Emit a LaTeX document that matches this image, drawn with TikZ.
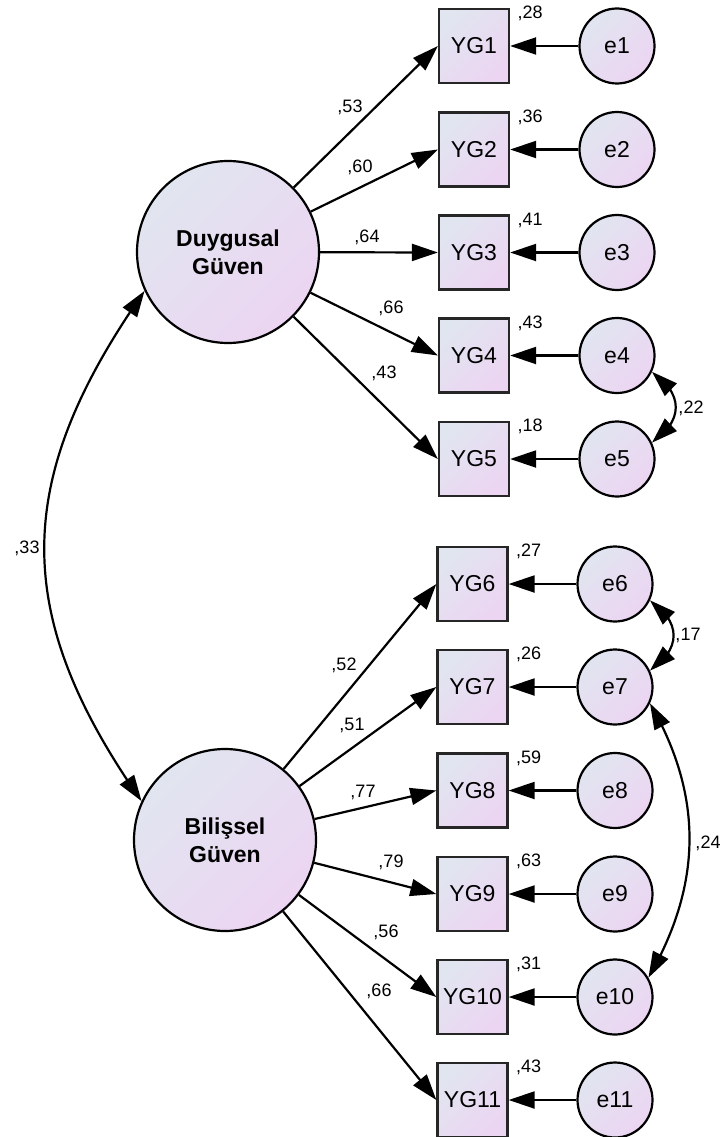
\documentclass[tikz,border=0pt]{standalone}
\usepackage{fontspec}
\setmainfont{Liberation Sans}
\usetikzlibrary{arrows.meta,bending,calc}
\definecolor{gradA}{RGB}{225,229,240}
\definecolor{gradB}{RGB}{236,213,242}
\begin{document}
\begin{tikzpicture}[x=1pt,y=1pt,
  grad/.style={top color=gradA,bottom color=gradB,shading angle=45},
  obs/.style={draw=black!85,line width=2.3pt,grad,minimum width=70pt,minimum height=74pt,
    inner sep=0pt,font=\fontsize{23}{26}\selectfont},
  err/.style={circle,draw=black,line width=2.2pt,grad,minimum size=75pt,inner sep=0pt,
    font=\fontsize{23}{26}\selectfont},
  lat/.style={circle,draw=black,line width=2.2pt,grad,minimum size=182pt,inner sep=0pt,
    align=center,font=\fontsize{23}{28}\selectfont\bfseries},
  tip/.tip={Triangle[length=26pt,width=17pt]},
  reg/.style={line width=2.2pt,-tip},
  cov/.style={line width=2.2pt,tip-tip},
  coef/.style={font=\fontsize{18}{20}\selectfont,inner sep=0pt}]
\useasboundingbox (0,0) rectangle (723,-1137);

% latent factors
\node[lat] (d) at (228,-252) {Duygusal\\Güven};
\node[lat] (b) at (225,-840) {Bilişsel\\Güven};

% indicators and their error terms
\foreach \i/\y in {1/46,2/149.5,3/252.5,4/355.5,5/459}{
  \node[obs] (yg\i) at (474,-\y) {YG\i};
  \node[err] (e\i) at (617,-\y) {e\i};
}
\foreach \i/\y in {6/584,7/687,8/790.5,9/894,10/997,11/1100}{
  \node[obs] (yg\i) at (472.5,-\y) {YG\i};
  \node[err] (e\i) at (615,-\y) {e\i};
}

% factor loadings
\foreach \i in {1,...,5}{ \draw[reg] (d) -- (yg\i.west); }
\foreach \i in {6,...,11}{ \draw[reg] (b) -- (yg\i.west); }

% error paths
\foreach \i in {1,...,11}{ \draw[reg] (e\i.west) -- (yg\i.east); }

% covariances
\draw[cov] (d.205) to[out=235,in=125,looseness=1.15] (b.155);
\draw[cov] (e4.-25) to[out=-35,in=35,looseness=1.4] (e5.25);
\draw[cov] (e6.-25) to[out=-35,in=35,looseness=1.4] (e7.25);
\draw[cov] (e7.-25) to[out=-60,in=60] (e10.30);

% loading estimates
\node[coef] (l1) at (350,-107) {,53};
\node[coef] (l2) at (360,-167) {,60};
\node[coef] (l3) at (367,-237) {,64};
\node[coef] (l4) at (391,-308) {,66};
\node[coef] (l5) at (384,-373) {,43};
\node[coef] (l6) at (344,-665) {,52};
\node[coef] (l7) at (352,-725) {,51};
\node[coef] (l8) at (363,-792) {,77};
\node[coef] (l9) at (391,-862) {,79};
\node[coef] (l10) at (386,-932) {,56};
\node[coef] (l11) at (379,-991) {,66};

% covariance estimates
\node[coef] (c1) at (27,-548) {,33};
\node[coef] (c2) at (691,-408) {,22};
\node[coef] (c3) at (688,-635) {,17};
\node[coef] (c4) at (708,-843) {,24};

% squared multiple correlations
\foreach \i/\v in {1/28,2/36,3/41,4/43,5/18,6/27,7/26,8/59,9/63,10/31,11/43}{
  \node[coef] (r\i) at ($(yg\i.north east)+(20,-6)$) {,\v};
}
\end{tikzpicture}
\end{document}
